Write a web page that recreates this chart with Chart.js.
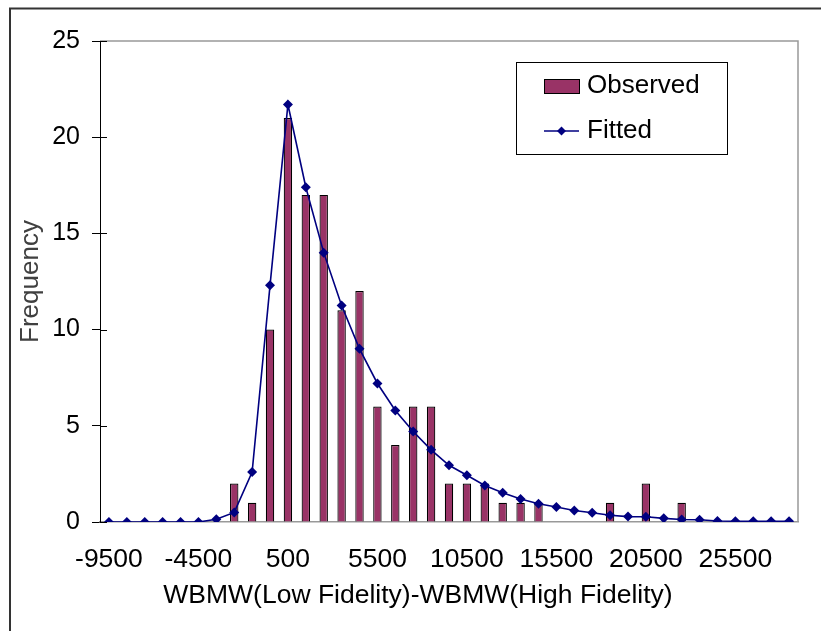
<!DOCTYPE html>
<html>
<head>
<meta charset="utf-8">
<script src="https://cdn.jsdelivr.net/npm/chart.js@4.4.1/dist/chart.umd.min.js"></script>
<style>
  html, body { margin: 0; padding: 0; background: #ffffff; }
  #wrap { width: 821px; height: 631px; }
</style>
</head>
<body>
<div id="wrap"><canvas id="c" width="821" height="631"></canvas></div>
<script>
const categories = ['-9500','-8500','-7500','-6500','-5500','-4500','-3500','-2500','-1500','-500',
  '500','1500','2500','3500','4500','5500','6500','7500','8500','9500',
  '10500','11500','12500','13500','14500','15500','16500','17500','18500','19500',
  '20500','21500','22500','23500','24500','25500','26500','27500','28500'];
const observed = [0,0,0,0,0,0,0,2,1,10,
  21,17,17,11,12,6,4,6,6,2,
  2,2,1,1,1,0,0,0,1,0,
  2,0,1,0,0,0,0,0,0];
const fitted = [0,0,0,0,0,0,0.14,0.5,2.6,12.3,
  21.7,17.4,14.0,11.25,9.0,7.2,5.8,4.7,3.75,2.95,
  2.43,1.9,1.52,1.2,0.95,0.78,0.6,0.48,0.35,0.28,
  0.27,0.19,0.13,0.12,0.05,0.04,0.04,0.04,0.04];
const xTickLabels = ['-9500','-4500','500','5500','10500','15500','20500','25500'];
const yTicks = [0,5,10,15,20,25];
const xTitle = 'WBMW(Low Fidelity)-WBMW(High Fidelity)';
const yTitle = 'Frequency';

const FONT = 'Liberation Sans, Arial, sans-serif';
const BAR_COLOR = '#993366';
const LINE_COLOR = '#000080';

const framePlugin = {
  id: 'frame',
  beforeDraw(chart) {
    const ctx = chart.ctx;
    ctx.save();
    ctx.fillStyle = '#ffffff';
    ctx.fillRect(0, 0, chart.width, chart.height);
    ctx.strokeStyle = '#333333';
    ctx.lineWidth = 2;
    ctx.strokeRect(10, 8.5, 900, 700);
    ctx.restore();
  },
  afterDraw(chart) {
    const ctx = chart.ctx;
    const a = chart.chartArea;
    const ys = chart.scales.y;
    ctx.save();
    // top & right plot border
    ctx.strokeStyle = '#999999';
    ctx.lineWidth = 1.5;
    ctx.beginPath();
    ctx.moveTo(a.left, a.top);
    ctx.lineTo(a.right, a.top);
    ctx.lineTo(a.right, a.bottom);
    ctx.stroke();
    // inner half of cross ticks on y axis
    ctx.strokeStyle = '#000000';
    ctx.lineWidth = 1;
    yTicks.forEach(v => {
      const y = Math.round(ys.getPixelForValue(v)) + 0.5;
      ctx.beginPath();
      ctx.moveTo(a.left, y);
      ctx.lineTo(a.left + 7, y);
      ctx.stroke();
    });
    // x axis title
    ctx.fillStyle = '#000000';
    ctx.font = '26.5px ' + FONT;
    ctx.textAlign = 'center';
    ctx.textBaseline = 'middle';
    ctx.fillText(xTitle, 418, 596);
    // legend
    const ds = chart.data.datasets;
    ctx.strokeStyle = '#000000';
    ctx.lineWidth = 1;
    ctx.strokeRect(516.5, 62.5, 211, 92);
    ctx.fillStyle = ds[0].backgroundColor;
    ctx.fillRect(544, 79, 35, 14);
    ctx.strokeRect(544.5, 79.5, 35, 14);
    ctx.strokeStyle = ds[1].borderColor;
    ctx.lineWidth = 1.5;
    ctx.beginPath();
    ctx.moveTo(544, 131);
    ctx.lineTo(579, 131);
    ctx.stroke();
    ctx.fillStyle = ds[1].borderColor;
    ctx.beginPath();
    ctx.moveTo(561.5, 126.5);
    ctx.lineTo(566, 131);
    ctx.lineTo(561.5, 135.5);
    ctx.lineTo(557, 131);
    ctx.closePath();
    ctx.fill();
    ctx.fillStyle = '#000000';
    ctx.font = '26px ' + FONT;
    ctx.textAlign = 'left';
    ctx.textBaseline = 'middle';
    ctx.fillText(ds[0].label, 587, 86);
    ctx.fillText(ds[1].label, 587, 131);
    ctx.restore();
  }
};

new Chart(document.getElementById('c'), {
  type: 'bar',
  data: {
    labels: categories,
    datasets: [
      {
        type: 'bar',
        label: 'Observed',
        data: observed,
        backgroundColor: BAR_COLOR,
        borderColor: '#000000',
        borderWidth: 1.2,
        categoryPercentage: 1,
        barPercentage: 0.47,
        order: 2
      },
      {
        type: 'line',
        label: 'Fitted',
        data: fitted,
        borderColor: LINE_COLOR,
        backgroundColor: LINE_COLOR,
        borderWidth: 1.6,
        tension: 0,
        pointStyle: 'rectRot',
        pointRadius: 5,
        pointBorderWidth: 0,
        pointBackgroundColor: LINE_COLOR,
        fill: false,
        order: 1
      }
    ]
  },
  options: {
    responsive: false,
    animation: false,
    devicePixelRatio: 1,
    layout: { padding: { left: 0, top: 41, right: 23, bottom: 0 } },
    plugins: {
      legend: { display: false },
      tooltip: { enabled: false }
    },
    scales: {
      x: {
        type: 'category',
        offset: true,
        grid: { display: false, drawTicks: false },
        border: { display: true, color: '#999999', width: 1.5 },
        ticks: {
          autoSkip: false,
          maxRotation: 0,
          minRotation: 0,
          padding: 22,
          color: '#000000',
          font: { family: FONT, size: 26.5 },
          callback: function(value, index) {
            const lbl = this.getLabelForValue(value);
            return xTickLabels.includes(lbl) ? lbl : '';
          }
        },
        title: { display: false },
        afterFit(scale) { scale.height = 109; }
      },
      y: {
        min: 0,
        max: 25,
        ticks: {
          stepSize: 5,
          padding: 12,
          color: '#000000',
          font: { family: FONT, size: 25 }
        },
        grid: { display: true, drawOnChartArea: false, drawTicks: true, tickLength: 8, color: '#000000' },
        border: { display: true, color: '#000000', width: 1 },
        title: {
          display: true,
          text: yTitle,
          color: '#404040',
          font: { family: FONT, size: 26 },
          padding: { top: 15, bottom: 0 }
        },
        afterFit(scale) { scale.width = 100; }
      }
    }
  },
  plugins: [framePlugin]
});
</script>
</body>
</html>
